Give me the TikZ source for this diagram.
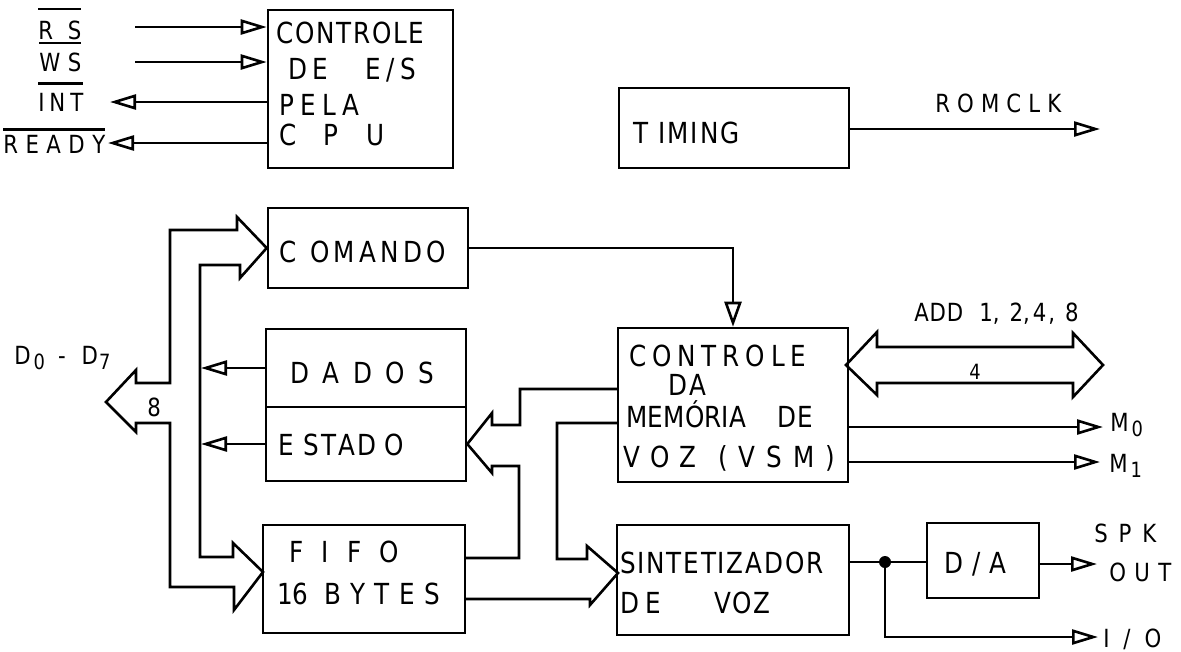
\documentclass[tikz,border=0pt]{standalone}
\usepackage{fontspec}
\setmainfont{DejaVu Sans}[FakeStretch=0.85]
\usetikzlibrary{arrows.meta,calc}
\makeatletter
\newcommand\spr[2]{\makebox[#1][s]{\spr@a#2\@nil}}
\def\spr@a#1#2\@nil{#1\ifx\relax#2\relax\else\hfil\spr@a#2\@nil\fi}
\makeatother
\newcommand\ovl[2][8pt]{\vbox{\hrule height 2.4pt\kern#1\hbox{#2}}}
\newcommand\subsc[1]{\raisebox{-5pt}{\fontsize{21}{22}\selectfont #1}}
\begin{document}
\begin{tikzpicture}[x=1pt,y=-1pt,line width=2.6pt,
  box/.style={draw,inner sep=0pt},
  txt/.style={anchor=base west,inner sep=0pt,font=\fontsize{29}{33}\selectfont},
  lab/.style={anchor=base west,inner sep=0pt,font=\fontsize{25}{28}\selectfont},
  arr/.style={-{Triangle[open,length=26pt,width=15pt]}},
  varr/.style={-{Triangle[open,length=25pt,width=17pt]}}]
\useasboundingbox (0,0) rectangle (1181,651);
% boxes
\node[box,minimum width=185pt,minimum height=158pt] (cpu) at (360.5,89) {};
\node[box,minimum width=230pt,minimum height=80pt] (timing) at (734,128) {};
\node[box,minimum width=200pt,minimum height=80pt] (comando) at (368,248) {};
\node[box,minimum width=200pt,minimum height=78pt] (dados) at (366,368) {};
\node[box,minimum width=200pt,minimum height=74pt] (estado) at (366,444) {};
\node[box,minimum width=202pt,minimum height=108pt] (fifo) at (364,579) {};
\node[box,minimum width=230pt,minimum height=154pt] (vsm) at (733,405) {};
\node[box,minimum width=232pt,minimum height=110pt] (sint) at (733,580) {};
\node[box,minimum width=112pt,minimum height=75pt] (da) at (983,560.5) {};
% box texts
\node[txt] (t1) at (275,43.5) {\spr{148pt}{CONTROLE}};
\node[txt] (t2) at (287,79.5) {\spr{128pt}{DE{\hspace{26pt}}E/S}};
\node[txt] (t3) at (278,115.5) {\spr{80pt}{PELA}};
\node[txt] (t4) at (278,145.5) {\spr{105pt}{CPU}};
\node[txt] (t5) at (632,143.5) {\spr{106pt}{T{\hspace{7pt}}IMING}};
\node[txt] (t6) at (278,262.5) {\spr{167pt}{C{\hspace{5pt}}OMANDO}};
\node[txt] (t7) at (289,383.5) {\spr{144pt}{DADOS}};
\node[txt] (t8) at (277,455.5) {\spr{126pt}{E{\hspace{6pt}}STAD{\hspace{5pt}}O}};
\node[txt] (t9) at (288,562.5) {\spr{110pt}{FIFO}};
\node[txt] (t10) at (276,604.5) {16\hspace{16pt}\spr{115pt}{BYTES}};
\node[txt] (t11) at (628,366.5) {\spr{177pt}{CONTROLE}};
\node[txt] (t12) at (667,395.5) {\spr{38pt}{DA}};
\node[txt] (t13) at (625,427.5) {\spr{120pt}{MEMÓRIA}\hspace{31pt}\spr{36pt}{DE}};
\node[txt] (t14) at (622,467.5) {\spr{73pt}{VOZ}\hspace{22pt}\spr{117pt}{(VSM)}};
\node[txt] (t15) at (619,573.5) {\spr{203pt}{SINTETIZADOR}};
\node[txt] (t16) at (619,613.5) {\spr{41pt}{DE}\hspace{53pt}\spr{56pt}{VOZ}};
\node[txt] (t17) at (943,573.5) {\spr{62pt}{D/A}};
% labels
\node[lab] (lrs) at (37,39) {\ovl[10pt]{\spr{43pt}{RS}}};
\node[lab] (lws) at (38,71) {\ovl{\spr{42pt}{WS}}};
\node[lab] (lint) at (37,111) {\ovl{\spr{45pt}{INT}}};
\node[lab] (lrdy) at (2,153) {\ovl[4pt]{\spr{102pt}{READY}}};
\node[lab] (lrom) at (934,112) {\spr{126pt}{ROMCLK}};
\node[lab] (ld) at (13,364) {D\hspace{3pt}\subsc{0}\hspace{13pt}-\hspace{16pt}D\hspace{1pt}\subsc{7}};
\node[lab] (l8) at (146,416) {8};
\node[lab] (ladd) at (913,321) {\spr{49pt}{ADD}\hspace{16pt}1,\hspace{10pt}2,\hspace{3pt}4\hspace{2pt},\hspace{10pt}8};
\node[lab,font=\fontsize{21}{23}\selectfont] (l4) at (968,379) {4};
\node[lab] (lm0) at (1109,431) {M\hspace{3pt}\subsc{0}};
\node[lab] (lm1) at (1108,472) {M\hspace{3pt}\subsc{1}};
\node[lab] (lspk) at (1093,542) {\spr{62pt}{SPK}};
\node[lab] (lout) at (1108,581) {\spr{62pt}{OUT}};
\node[lab] (lio) at (1102,647) {\spr{58pt}{I/O}};
% free ends
\coordinate (rs) at (135,27);
\coordinate (ws) at (135,62);
\coordinate (int) at (110,102);
\coordinate (rdy) at (108,143);
\coordinate (romclk) at (1100,129);
\coordinate (m0) at (1103,427);
\coordinate (m1) at (1100,462);
\coordinate (dot) at (885,562);
\coordinate (spk) at (1097,564);
\coordinate (io) at (1098,637);
\coordinate (busin) at (201,400);
% CPU signals
\draw[arr] (rs) -- (rs -| cpu.west);
\draw[arr] (ws) -- (ws -| cpu.west);
\draw[arr] (int -| cpu.west) -- (int);
\draw[arr] (rdy -| cpu.west) -- (rdy);
\draw[arr] (timing.east |- romclk) -- (romclk);
% command to VSM
\draw[varr] (comando.east) -| (vsm.north);
% data bus
\draw (136,370) -- (106,402) -- (136,432) -- (136,423) -- (170,423) -- (170,587)
  -- (234,587) -- (234,610) -- (263,572) -- (233,543) -- (233,557) -- (200,557)
  -- (200,265) -- (240,265) -- (240,278) -- (comando.west) -- (237,217) -- (237,230)
  -- (170,230) -- (170,383) -- (136,383) -- cycle;
\draw[arr] (dados.west) -- (dados.west -| busin);
\draw[arr] (estado.west) -- (estado.west -| busin);
% VSM to status / FIFO
\draw (618,389) -- (520,389) -- (520,425) -- (492,425) -- (492,413) -- (estado.east)
  -- (492,473) -- (492,466) -- (519,466) -- (519,558) -- (465,558);
% VSM / FIFO to synthesizer
\draw (618,423) -- (557,423) -- (557,559) -- (587,559) -- (587,546) -- (618,573)
  -- (590,605) -- (590,599) -- (465,599);
% address bus
\draw (846,365) -- (877,332) -- (877,347) -- (1073,347) -- (1073,333) -- (1103,365)
  -- (1073,397) -- (1073,383) -- (877,383) -- (877,395) -- cycle;
\draw[arr] (m0 -| vsm.east) -- (m0);
\draw[arr] (m1 -| vsm.east) -- (m1);
% synthesizer output
\draw (dot -| sint.east) -- (dot -| da.west);
\fill (dot) circle (6pt);
\draw[arr] (spk -| da.east) -- (spk);
\draw[arr] (dot) |- (io);
\end{tikzpicture}
\end{document}
